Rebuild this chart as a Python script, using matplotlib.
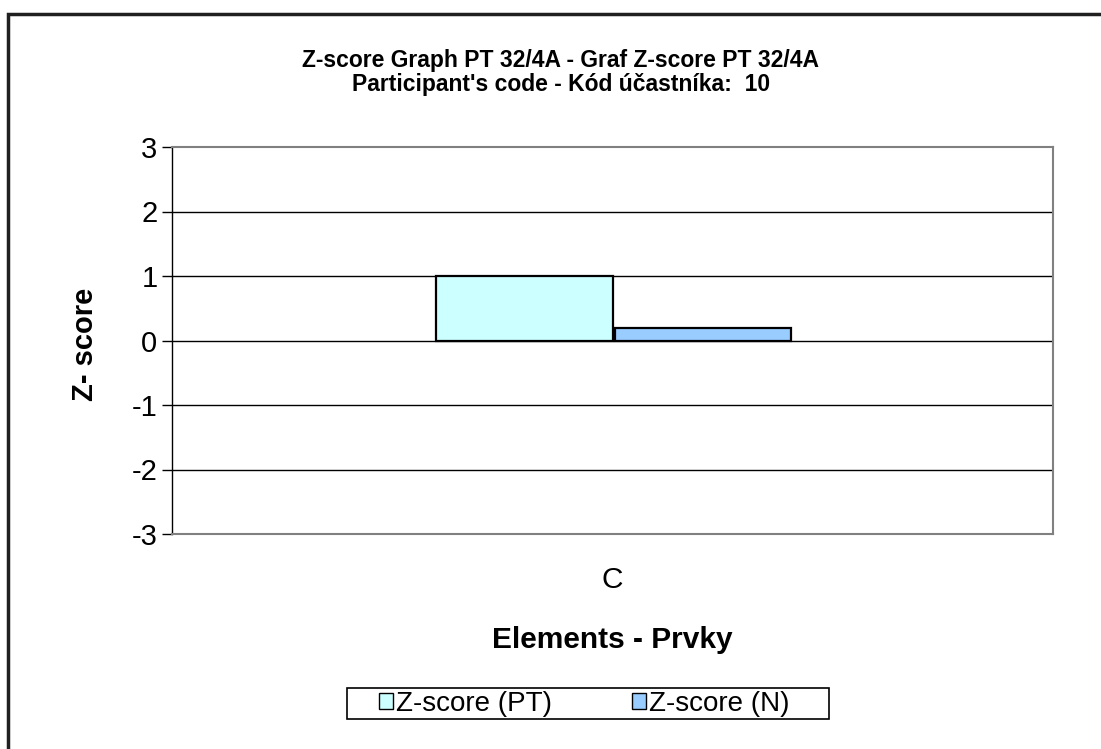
import matplotlib
matplotlib.use("Agg")
import matplotlib.pyplot as plt
from matplotlib.patches import Rectangle, Patch

# chart data
categories = ["C"]
z_pt = [1.0]
z_n = [0.2]
series_names = ["Z-score (PT)", "Z-score (N)"]
yticks = [-3, -2, -1, 0, 1, 2, 3]

plt.rcParams['font.family'] = ['Liberation Sans', 'DejaVu Sans']

W, H = 1101, 749
fig = plt.figure(figsize=(W / 100, H / 100), dpi=100)
ax = fig.add_axes([172 / W, 1 - 534 / H, 881 / W, 387 / H])

# outer chart border (only top and left edges show)
fig.patches.append(Rectangle((8 / W, -0.1), 1.2, (H - 14) / H + 0.1,
                             transform=fig.transFigure, fill=False,
                             edgecolor="#202020", linewidth=2.5))

x = list(range(len(categories)))
bw = 0.2
ax.bar([i - bw for i in x], z_pt, width=bw, align="edge", color="#CCFFFF",
       edgecolor="black", linewidth=1.6, zorder=3)
ax.bar([i + 0.003 for i in x], z_n, width=bw, align="edge", color="#99CCFF",
       edgecolor="black", linewidth=1.6, zorder=3)

ax.set_xlim(-0.5, len(categories) - 0.5)
ax.set_ylim(-3, 3)
ax.set_yticks(yticks)
ax.set_yticklabels([str(t) for t in yticks], fontsize=21)
ax.tick_params(axis="y", direction="out", length=7, width=1, pad=3.5)
for t in yticks[1:-1]:
    ax.axhline(t, color="black", linewidth=1, zorder=1)

ax.set_xticks(x)
ax.set_xticklabels(categories, fontsize=21.5)
ax.tick_params(axis="x", length=0, pad=23)

for side in ["top", "right", "bottom"]:
    ax.spines[side].set_color("#808080")
    ax.spines[side].set_linewidth(1.5)
ax.spines["left"].set_color("black")
ax.spines["left"].set_linewidth(1)

ax.set_xlabel("Elements - Prvky", fontsize=21.5, fontweight="bold")
ax.xaxis.label.set_va("baseline")
ax.xaxis.set_label_coords(0.5, -(648 - 534) / 387)
ax.set_ylabel("Z- score", fontsize=21, fontweight="bold")
ax.yaxis.label.set_va("center")
ax.yaxis.set_label_coords(-(172 - 85) / 881, 0.49)

fig.text(561 / W, 1 - 67 / H, "Z-score Graph PT 32/4A - Graf Z-score PT 32/4A",
         ha="center", va="baseline", fontsize=16.5, fontweight="bold")
fig.text(561 / W, 1 - 91 / H, "Participant's code - Kód účastníka:  10",
         ha="center", va="baseline", fontsize=16.5, fontweight="bold")

# legend box drawn at its place, entries inside
fig.patches.append(Rectangle((347 / W, 1 - 719 / H), 482 / W, 31 / H,
                             transform=fig.transFigure, fill=False,
                             edgecolor="black", linewidth=1.2))
handles = [Patch(facecolor="#CCFFFF", edgecolor="black", linewidth=1),
           Patch(facecolor="#99CCFF", edgecolor="black", linewidth=1)]
leg = fig.legend(handles, series_names, loc="center left", ncol=2,
                 bbox_to_anchor=(379 / W, 1 - 704 / H), fontsize=20,
                 frameon=False, handlelength=0.5, handleheight=0.5,
                 handletextpad=0.1, columnspacing=2.9, borderpad=0,
                 borderaxespad=0)

fig.savefig("out.png", dpi=100)
